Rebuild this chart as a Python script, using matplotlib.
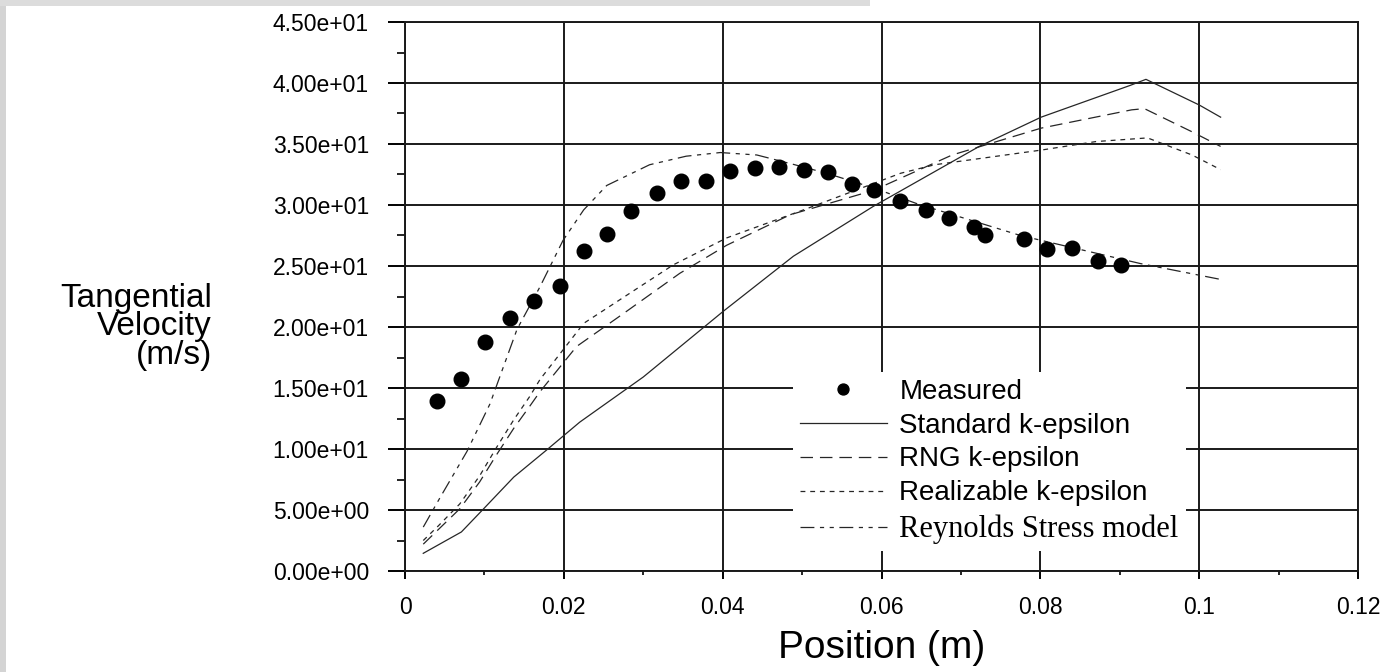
import matplotlib.pyplot as plt
from matplotlib.ticker import MultipleLocator, FixedLocator, FixedFormatter, FormatStrFormatter
from matplotlib.patches import Rectangle

plt.rcParams['font.family'] = ['Liberation Sans', 'DejaVu Sans']
plt.rcParams['lines.scale_dashes'] = False

# measured tangential velocity
meas_x = [0.0040, 0.0070, 0.0101, 0.0132, 0.0163, 0.0195, 0.0225, 0.0254, 0.0285, 0.0317,
          0.0347, 0.0379, 0.0409, 0.0441, 0.0471, 0.0502, 0.0533, 0.0563, 0.0591, 0.0623,
          0.0656, 0.0685, 0.0717, 0.0730, 0.0779, 0.0809, 0.0840, 0.0873, 0.0902]
meas_v = [13.9, 15.7, 18.8, 20.7, 22.1, 23.4, 26.2, 27.6, 29.5, 31.0,
          32.0, 32.0, 32.8, 33.0, 33.1, 32.9, 32.7, 31.7, 31.2, 30.3,
          29.6, 28.9, 28.2, 27.5, 27.2, 26.4, 26.5, 25.4, 25.1]

# Standard k-epsilon
std_x = [0.0023, 0.0071, 0.0099, 0.0137, 0.0178, 0.0220, 0.0300, 0.0401, 0.0489, 0.0590,
         0.0723, 0.0801, 0.0913, 0.0933, 0.1000, 0.1027]
std_v = [1.45, 3.2, 5.1, 7.7, 9.9, 12.2, 15.9, 21.3, 25.8, 29.9,
         34.8, 37.2, 39.8, 40.3, 38.2, 37.2]

# RNG k-epsilon
rng_x = [0.0023, 0.0042, 0.0069, 0.0094, 0.0115, 0.0137, 0.0157, 0.0170, 0.0216, 0.0275,
         0.0346, 0.0405, 0.0485, 0.0590, 0.0689, 0.0801, 0.0915, 0.0931, 0.0991, 0.1027]
rng_v = [2.2, 3.4, 5.1, 7.3, 9.5, 11.7, 13.5, 14.7, 18.4, 21.1,
         24.4, 26.7, 29.2, 31.2, 34.1, 36.3, 37.8, 37.9, 36.0, 34.8]

# Realizable k-epsilon
rlz_x = [0.0023, 0.0042, 0.0069, 0.0094, 0.0115, 0.0137, 0.0157, 0.0170, 0.0225, 0.0338,
         0.0405, 0.0506, 0.0624, 0.0667, 0.0801, 0.0870, 0.0935, 0.0991, 0.1027]
rlz_v = [2.5, 3.7, 5.5, 7.8, 10.1, 12.4, 14.3, 15.7, 20.3, 25.1,
         27.3, 29.7, 32.6, 33.3, 34.5, 35.2, 35.5, 34.1, 32.9]

# Reynolds Stress model
rsm_x = [0.0023, 0.0044, 0.0078, 0.0107, 0.0141, 0.0170, 0.0199, 0.0225, 0.0254, 0.0308,
         0.0354, 0.0397, 0.0443, 0.0485, 0.0531, 0.0590, 0.0645, 0.0775, 0.0926, 0.1027]
rsm_v = [3.6, 6.0, 9.8, 13.7, 19.8, 23.3, 27.1, 29.6, 31.6, 33.3,
         34.0, 34.3, 34.1, 33.4, 32.6, 31.4, 30.1, 27.5, 25.2, 23.9]

xticks = [0, 0.02, 0.04, 0.06, 0.08, 0.1, 0.12]
xtick_labels = ['0', '0.02', '0.04', '0.06', '0.08', '0.1', '0.12']

W, H = 1387, 672
fig = plt.figure(figsize=(W / 100, H / 100), dpi=100, facecolor='white')
# grey frame of the screenshot
fig.add_artist(Rectangle((0, 0), 6 / W, 1, transform=fig.transFigure, color='#d4d4d4', lw=0, zorder=-5))
fig.add_artist(Rectangle((0, 1 - 6 / H), 870 / W, 6 / H, transform=fig.transFigure, color='#dcdcdc', lw=0, zorder=-5))

ax = fig.add_axes([405 / W, 1 - 571 / H, 953 / W, 549 / H])
ax.set_xlim(0, 0.12)
ax.set_ylim(0, 45)

lc = '#262626'
ax.plot(std_x, std_v, '-', color=lc, lw=0.9, label='Standard k-epsilon')
ax.plot(rng_x, rng_v, color=lc, lw=0.9, dashes=(9, 5), label='RNG k-epsilon')
ax.plot(rlz_x, rlz_v, color=lc, lw=0.9, dashes=(3.5, 3.5), label='Realizable k-epsilon')
ax.plot(rsm_x, rsm_v, color=lc, lw=0.9, dashes=(10, 4, 3, 4, 3, 4), label='Reynolds Stress model')
ax.plot(meas_x, meas_v, 'o', color='black', ms=10.5, label='Measured')

ax.xaxis.set_major_locator(FixedLocator(xticks))
ax.xaxis.set_major_formatter(FixedFormatter(xtick_labels))
ax.xaxis.set_minor_locator(MultipleLocator(0.01))
ax.yaxis.set_major_locator(MultipleLocator(5))
ax.yaxis.set_minor_locator(MultipleLocator(2.5))
ax.yaxis.set_major_formatter(FormatStrFormatter('%.2e'))

ax.set_axisbelow(True)
ax.grid(which='major', color='#1a1a1a', lw=1.4)
for s in ax.spines.values():
    s.set_linewidth(1.4)
    s.set_color('#1a1a1a')

ax.tick_params(axis='y', which='major', direction='out', length=12, width=1.4, pad=14, labelsize=16.5)
ax.tick_params(axis='y', which='minor', direction='out', length=6, width=1.2)
ax.tick_params(axis='x', which='major', direction='out', length=6, width=1.4, pad=12, labelsize=16.5)
ax.tick_params(axis='x', which='minor', direction='out', length=3, width=1.2)

ax.set_xlabel('Position (m)', fontsize=28, labelpad=8)
fig.text(212 / W, 1 - 327 / H, 'Tangential\nVelocity\n(m/s)', ha='right', va='center',
         ma='right', fontsize=24, linespacing=0.88)

h, l = ax.get_legend_handles_labels()
order = [4, 0, 1, 2, 3]
leg = ax.legend([h[i] for i in order], [l[i] for i in order],
                loc='upper left', bbox_to_anchor=(793 / W, 1 - 372 / H), bbox_transform=fig.transFigure,
                frameon=True, fancybox=False, edgecolor='none', facecolor='white', framealpha=1,
                fontsize=20, handlelength=3.13, handletextpad=0.45, labelspacing=0.28,
                borderpad=0.25, borderaxespad=0, markerscale=0.75)
rs = leg.get_texts()[4]
rs.set_fontfamily(['Liberation Serif', 'DejaVu Serif'])
rs.set_fontsize(22)

fig.savefig('out.png', dpi=100, facecolor=fig.get_facecolor())
